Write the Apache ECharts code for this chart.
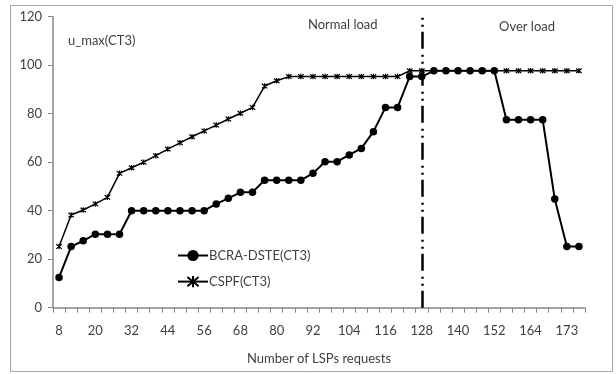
<!DOCTYPE html>
<html><head><meta charset="utf-8">
<script src="https://cdn.jsdelivr.net/npm/echarts@6/dist/echarts.min.js"></script>
<style>html,body{margin:0;padding:0;background:#fff}#c{width:616px;height:374px}</style>
</head><body><div id="c"></div>
<script>
var categories = ['8','12','16','20','24','28','32','36','40','44','48','52','56','60','64','68','72','76','80','84','88','92','96','100','104','108','112','116','120','124','128','132','136','140','144','148','152','156','160','164','167','170','173','176'];
var bcraDste = [12.5,25.2,27.6,30.3,30.3,30.3,40,40,40,40,40,40,40,42.8,45.1,47.6,47.6,52.6,52.6,52.6,52.6,55.4,60.2,60.2,63,65.7,72.6,82.6,82.6,95.3,95.3,97.7,97.7,97.7,97.7,97.7,97.7,77.5,77.5,77.5,77.5,44.8,25.2,25.2];
var cspf = [25.2,38.2,40.3,42.8,45.5,55.4,57.7,60,62.7,65.4,68,70.5,72.9,75.3,77.8,80.2,82.6,91.4,93.6,95.3,95.3,95.3,95.3,95.3,95.3,95.3,95.3,95.3,95.3,97.7,97.7,97.7,97.7,97.7,97.7,97.7,97.7,97.7,97.7,97.7,97.7,97.7,97.7,97.7];
var yTicks = [0,20,40,60,80,100,120];
var boundary = '128';

var FONT = 'Lato';
var TXT = '#404040';
var chart = echarts.init(document.getElementById('c'), null, {renderer:'canvas'});
var starPath = 'path://M0,0L10,10M10,0L0,10M5,-1L5,11';
chart.setOption({
  animation:false,
  backgroundColor:'#fff',
  textStyle:{fontFamily:FONT},
  grid:{left:53,right:31,top:16.7,bottom:66.3,containLabel:false},
  legend:{
    orient:'vertical', left:172, top:244, itemWidth:30, itemHeight:14, itemGap:13,
    textStyle:{fontFamily:FONT,fontSize:13,color:TXT,padding:[0,0,0,-4]},
    data:['BCRA-DSTE(CT3)','CSPF(CT3)']
  },
  xAxis:{
    type:'category', data:categories, boundaryGap:true,
    name:'Number of LSPs requests', nameLocation:'middle', nameGap:45,
    nameTextStyle:{fontFamily:FONT,fontSize:13,color:TXT},
    axisLine:{lineStyle:{color:'#868686',width:1.5}},
    axisTick:{show:true,interval:0,length:5,lineStyle:{color:'#868686'}},
    axisLabel:{interval:2,margin:17,fontFamily:FONT,fontSize:13,color:TXT},
    splitLine:{show:false}
  },
  yAxis:{
    type:'value', min:yTicks[0], max:yTicks[yTicks.length-1], interval:20,
    axisLine:{show:true,lineStyle:{color:'#868686',width:1.5}},
    axisTick:{show:true,length:5,lineStyle:{color:'#868686'}},
    axisLabel:{margin:11,fontFamily:FONT,fontSize:13,color:TXT},
    splitLine:{show:false}
  },
  series:[
    {name:'BCRA-DSTE(CT3)', type:'line', data:bcraDste, symbol:'circle', symbolSize:7.5,
     lineStyle:{color:'#000',width:2}, itemStyle:{color:'#000'}, z:3,
     markLine:{silent:true, symbol:['none','none'], label:{show:false},
       lineStyle:{color:'#000',width:2.5,type:[17,5,2,5,2,6]},
       data:[{xAxis:boundary}]}
    },
    {name:'CSPF(CT3)', type:'line', data:cspf, symbol:starPath, symbolSize:5.5,
     lineStyle:{color:'#000',width:1.5}, itemStyle:{color:'#000',borderColor:'#000',borderWidth:1.2}, z:2}
  ],
  graphic:[
    {type:'rect', shape:{x:10.5,y:5.5,width:602,height:366}, style:{fill:'none',stroke:'#a6a6a6',lineWidth:1}, silent:true},
    {type:'text', left:68, top:34, style:{text:'u_max(CT3)',fontFamily:FONT,fontSize:13,fill:TXT}},
    {type:'text', left:308, top:18, style:{text:'Normal load',fontFamily:FONT,fontSize:13,fill:TXT}},
    {type:'text', left:499, top:20, style:{text:'Over load',fontFamily:FONT,fontSize:13,fill:TXT}}
  ]
});
</script></body></html>
